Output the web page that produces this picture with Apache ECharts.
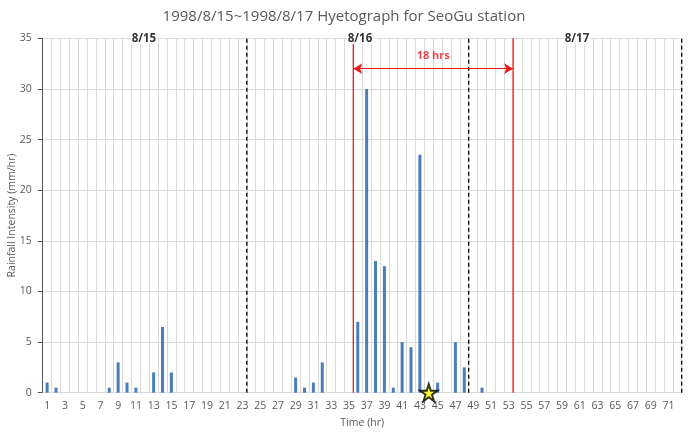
<!DOCTYPE html>
<html lang="en">
<head>
	<meta charset="UTF-8">
	<title>SeoGu hyetograph</title>
	<script src="https://cdn.jsdelivr.net/npm/echarts@6/dist/echarts.min.js"></script>
	<style>
		html, body { margin: 0; padding: 0; background: #fff; }
	</style>
</head>
<body>
	<div id="main" style="width: 688px; height: 434px;"></div>
	<script>
		// hours 1..72
		const hours = []
		for (let h = 1; h <= 72; h++) hours.push(String(h))

		// rainfall (mm/hr) for the hours that had rain
		const rainHours = [1, 2, 8, 9, 10, 11, 13, 14, 15, 29, 30, 31, 32, 36, 37, 38, 39, 40, 41, 42, 43, 45, 47, 48, 50]
		const rainValues = [1, 0.5, 0.5, 3, 1, 0.5, 2, 6.5, 2, 1.5, 0.5, 1, 3, 7, 30, 13, 12.5, 0.5, 5, 4.5, 23.5, 1, 5, 2.5, 0.5]

		// star marker (hour, value)
		const starPoint = ['44', 0]

		// reference lines, in hours on a 0..72 scale
		const dayLines = [23, 48, 72]
		const peakLines = [35, 53]
		const arrowLevel = 32
		const dayLabels = [['8/15', 11.4], ['8/16', 35.75], ['8/17', 60.2]]
		const spanLabel = '18 hrs'

		const rain = hours.map(function (h) {
			const i = rainHours.indexOf(Number(h))
			return i < 0 ? 0 : rainValues[i]
		})

		function vline(x, color, type) {
			return {
				type: 'line',
				xAxisIndex: 1,
				data: [[x, 0], [x, 35]],
				symbol: 'none',
				silent: true,
				z: 4,
				lineStyle: { color: color, width: 1.3, type: type }
			}
		}

		const series = [
			{
				type: 'bar',
				data: rain,
				barWidth: 3,
				itemStyle: { color: '#4a7ebb' },
				z: 3
			}
		]
		dayLines.forEach(function (x) { series.push(vline(x, '#000', [4, 3])) })
		peakLines.forEach(function (x) { series.push(vline(x, '#f01818', 'solid')) })

		// arrow between the two red lines
		series.push({
			type: 'line',
			xAxisIndex: 1,
			data: [],
			markLine: {
				silent: true,
				symbol: ['arrow', 'arrow'],
				symbolSize: [8, 9],
				lineStyle: { color: '#f01818', width: 1.2, type: 'solid' },
				label: { show: false },
				data: [[{ coord: [peakLines[0], arrowLevel] }, { coord: [peakLines[1], arrowLevel] }]]
			}
		})
		series.push({
			type: 'scatter',
			xAxisIndex: 1,
			symbolSize: 0,
			silent: true,
			data: [[(peakLines[0] + peakLines[1]) / 2, arrowLevel + 1.3]],
			label: {
				show: true, position: 'inside', formatter: spanLabel,
				color: '#f01818', fontWeight: 'bold', fontSize: 11, fontFamily: 'Open Sans'
			}
		})
		series.push({
			type: 'scatter',
			xAxisIndex: 1,
			symbolSize: 0,
			silent: true,
			clip: false,
			data: dayLabels.map(function (d) { return { name: d[0], value: [d[1], 35] } }),
			label: {
				show: true, position: 'inside', formatter: '{b}',
				color: '#000', fontWeight: 'bold', fontSize: 11.5, fontFamily: 'Open Sans',
				backgroundColor: '#fff', padding: [0, 1]
			},
			z: 6
		})
		series.push({
			type: 'scatter',
			data: [starPoint],
			symbol: 'path://M50,0 L61.2,34.5 L97.6,34.5 L68.2,55.9 L79.4,90.5 L50,69.1 L20.6,90.5 L31.8,55.9 L2.4,34.5 L38.8,34.5 Z',
			symbolSize: 17,
			itemStyle: { color: '#ffff00', borderColor: '#000', borderWidth: 2 },
			z: 7
		})

		const myChart = echarts.init(document.getElementById('main'))
		myChart.setOption({
			animation: false,
			title: {
				text: '1998/8/15~1998/8/17 Hyetograph for SeoGu station',
				left: 'center',
				top: 4,
				textStyle: { color: '#595959', fontSize: 15, fontWeight: 'normal', fontFamily: 'Open Sans' }
			},
			grid: { left: 42.7, right: 6.3, top: 38.3, bottom: 41.3, containLabel: false, outerBoundsMode: 'none' },
			xAxis: [
				{
					type: 'category',
					data: hours,
					name: 'Time (hr)',
					nameLocation: 'middle',
					nameGap: 25,
					nameMoveOverlap: false,
					nameTextStyle: { color: '#595959', fontSize: 10.5, fontFamily: 'Open Sans' },
					axisLine: { lineStyle: { color: '#d9d9d9' } },
					axisTick: { show: false },
					axisLabel: { interval: 1, color: '#595959', fontSize: 10.5, fontFamily: 'Open Sans', margin: 8 },
					splitLine: { show: true, interval: 0, lineStyle: { color: '#d9d9d9' } }
				},
				{
					type: 'value',
					min: 0,
					max: 72,
					show: false
				}
			],
			yAxis: {
				type: 'value',
				min: 0,
				max: 35,
				interval: 5,
				name: 'Rainfall Intensity (mm/hr)',
				nameLocation: 'middle',
				nameGap: 25,
				nameMoveOverlap: false,
				nameTextStyle: { color: '#595959', fontSize: 10.5, fontFamily: 'Open Sans' },
				axisLabel: { color: '#595959', fontSize: 10.5, fontFamily: 'Open Sans', margin: 11 },
				splitLine: { lineStyle: { color: '#d9d9d9' } }
			},
			series: series
		})
	</script>
</body>
</html>
